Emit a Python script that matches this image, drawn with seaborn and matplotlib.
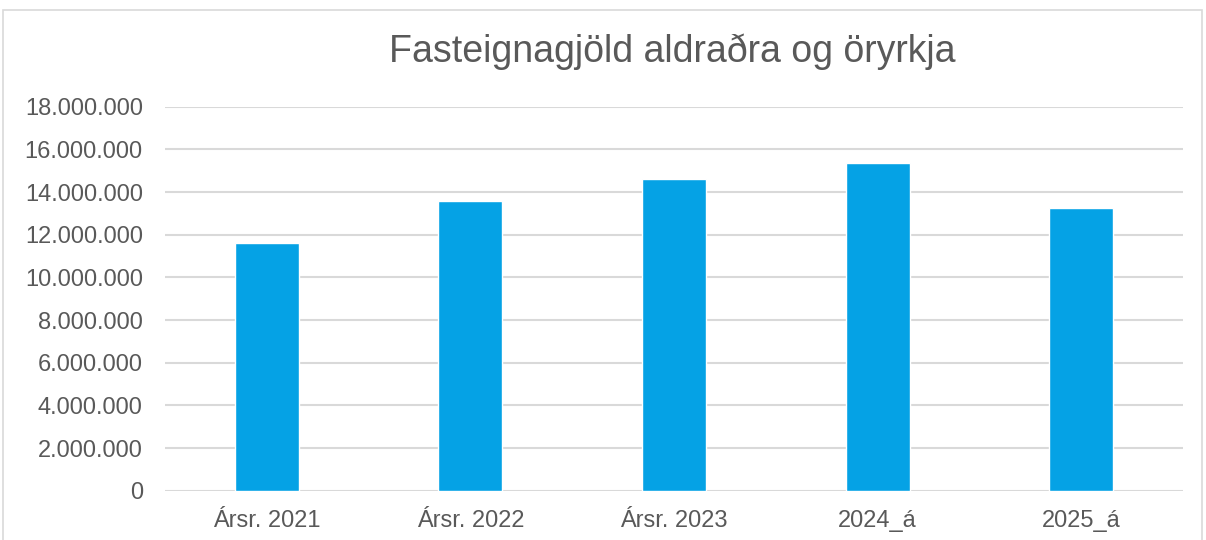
import matplotlib
matplotlib.use("Agg")
import matplotlib.pyplot as plt
import seaborn as sns
import pandas as pd
from matplotlib.ticker import FuncFormatter, MultipleLocator
from matplotlib.patches import Rectangle

categories = ["Ársr. 2021", "Ársr. 2022", "Ársr. 2023", "2024_á", "2025_á"]
values = [11600000, 13600000, 14620000, 15370000, 13260000]

sns.set_theme(style="white")
plt.rcParams['font.family'] = ['Liberation Sans', 'DejaVu Sans']

df = pd.DataFrame({"cat": categories, "val": values})

fig = plt.figure(figsize=(12.06, 5.40), dpi=100)
ax = fig.add_axes([165/1206, 1-490.7/540, (1183-165)/1206, (490.7-106.7)/540])

sns.barplot(data=df, x="cat", y="val", color="#05A2E5", saturation=1, width=0.315, ax=ax, zorder=3)

ax.set_ylim(0, 18000000)
ax.set_xlim(-0.5, 4.5)
ax.yaxis.set_major_locator(MultipleLocator(2000000))
ax.yaxis.set_major_formatter(FuncFormatter(lambda v, p: f"{int(v):,}".replace(",", ".")))
ax.grid(axis="y", color="#d9d9d9", linewidth=1.5, zorder=0)
ax.set_axisbelow(True)
for s in ax.spines.values():
    s.set_visible(False)
ax.set_xlabel("")
ax.set_ylabel("")
ax.tick_params(axis="both", length=0, labelsize=17, colors="#595959")
ax.tick_params(axis="x", pad=14)
ax.tick_params(axis="y", pad=16)

fig.text(672/1206, 1-52/540, "Fasteignagjöld aldraðra og öryrkja", ha="center", va="center",
         fontsize=27, color="#595959")

fig.patches.append(Rectangle((3/1206, -0.05), 1199/1206, 1.05 - 10/540, transform=fig.transFigure,
                             fill=False, edgecolor="#d9d9d9", linewidth=1.2))

fig.savefig("out.png", dpi=100)
